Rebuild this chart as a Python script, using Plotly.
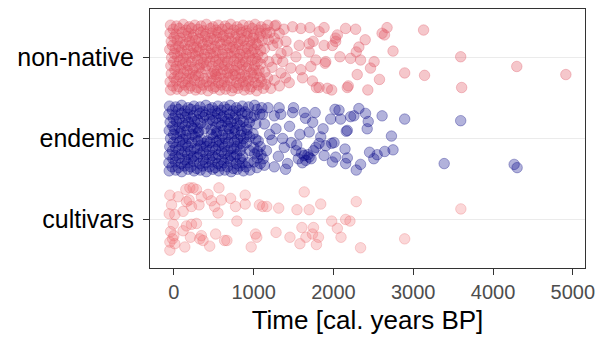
import plotly.graph_objects as go

categories = ["cultivars", "endemic", "non-native"]
x_ticks = [0, 1000, 2000, 3000, 4000, 5000]

# (time [cal. years BP], vertical jitter)
nonnative_points = [
    (-42,.40),(33,.39),(118,.41),(192,.38),(262,.40),(341,.39),(408,.41),(493,.38),(558,.40),(642,.39),(713,.41),(792,.38),(868,.40),(944,.39),(1018,.41),(1093,.38),(1178,.40),(1265,.39),
    (-8,.35),(68,.36),(152,.34),(223,.36),(303,.35),(372,.33),(457,.36),(528,.34),(603,.35),(677,.36),(752,.34),(828,.35),(907,.33),(983,.36),(1062,.34),(1142,.35),
    (-47,.30),(27,.29),(103,.31),(182,.30),(248,.28),(333,.31),(398,.29),(477,.30),(553,.31),(627,.28),(698,.30),(783,.29),(848,.31),(927,.30),(1003,.28),(1082,.30),(1205,.31),
    (2,.25),(78,.24),(162,.26),(233,.25),(312,.23),(388,.26),(462,.24),(538,.25),(612,.26),(688,.24),(767,.25),(838,.23),(917,.26),(992,.24),(1068,.25),
    (-33,.20),(42,.21),(113,.19),(197,.20),(268,.21),(347,.19),(423,.20),(502,.22),(573,.19),(652,.21),(723,.20),(802,.19),(873,.21),(952,.20),(1028,.18),(1108,.21),
    (-17,.15),(62,.14),(138,.16),(212,.15),(288,.13),(367,.16),(438,.15),(517,.14),(588,.16),(667,.15),(743,.13),(817,.16),(893,.14),(972,.15),(1047,.16),
    (-52,.10),(18,.11),(97,.09),(173,.10),(247,.12),(318,.09),(397,.10),(468,.11),(547,.09),(618,.10),(702,.12),(768,.10),(852,.09),(923,.11),(1002,.10),(1088,.09),
    (7,.05),(83,.06),(158,.04),(232,.05),(307,.07),(383,.04),(457,.05),(528,.06),(607,.04),(678,.05),(757,.06),(828,.04),(903,.05),(982,.06),(1053,.04),
    (-28,.00),(47,.01),(118,-.01),(202,.00),(273,.02),(352,-.01),(418,.00),(497,.01),(568,-.02),(647,.00),(718,.01),(797,-.01),(868,.00),(947,.02),(1023,-.01),(1112,.00),
    (-3,-.05),(72,-.04),(148,-.06),(222,-.05),(298,-.03),(372,-.06),(452,-.05),(523,-.04),(602,-.06),(673,-.05),(752,-.04),(822,-.06),(898,-.05),(977,-.03),(1048,-.05),
    (-38,-.10),(32,-.11),(107,-.09),(183,-.10),(257,-.12),(328,-.09),(407,-.10),(478,-.11),(562,-.09),(633,-.10),(712,-.12),(787,-.10),(858,-.09),(937,-.11),(1012,-.10),(1092,-.08),
    (12,-.15),(88,-.14),(167,-.16),(238,-.15),(317,-.13),(392,-.14),(505,-.17),(543,-.16),(617,-.15),(692,-.14),(763,-.16),(842,-.15),(913,-.13),(997,-.15),(1068,-.16),
    (-32,-.20),(52,-.21),(123,-.19),(202,-.20),(273,-.22),(343,-.19),(478,-.20),(522,-.21),(593,-.20),(672,-.19),(743,-.21),(822,-.20),(893,-.22),(972,-.19),(1043,-.20),
    (2,-.25),(78,-.24),(157,-.26),(228,-.25),(307,-.23),(377,-.26),(468,-.25),(538,-.24),(617,-.26),(688,-.25),(772,-.23),(843,-.25),(922,-.26),(998,-.24),(1078,-.25),
    (-47,-.30),(28,-.29),(107,-.31),(178,-.30),(257,-.28),(328,-.31),(412,-.30),(483,-.29),(562,-.31),(633,-.30),(712,-.28),(788,-.31),(867,-.30),(938,-.29),(1017,-.31),(1098,-.30),
    (-12,-.35),(63,-.36),(142,-.34),(213,-.35),(292,-.37),(368,-.34),(447,-.35),(518,-.36),(597,-.34),(668,-.35),(747,-.37),(818,-.34),(897,-.35),(973,-.36),(1057,-.34),
    (-42,-.40),(38,-.39),(122,-.41),(193,-.38),(272,-.40),(343,-.39),(427,-.41),(498,-.38),(577,-.40),(648,-.39),(727,-.41),(802,-.38),(882,-.40),(953,-.39),(1037,-.41),(1122,-.38),
    (1160,.30),(1190,-.05),(1175,-.25),(1215,-.38),(1240,.15),(1230,-.12),(1150,-.33),(1290,-.02),(1320,.30),(1380,.35),(1365,-.05),(1420,.08),(1260,-.28),(1185,.22),(1140,-.18),(1300,.18),(1400,-.25),
    (1280,.40),(1488,.38),(1592,.36),(1259,.24),(1405,.20),(1135,.11),(1343,.05),(1530,.01),(1571,.15),(1696,.17),(1467,-.13),(1592,-.15),(1343,-.19),(1613,-.25),(1446,-.31),(1322,-.35),
    (3130,.34),(3595,.01),(3607,-.37),(4298,-.11),(4913,-.21),(2893,-.19),(3142,-.22),(2747,.08),(2672,.37),(2610,.30),(2640,.28),(2577,-.27),(2431,-.40),(2465,-.13),(2510,-.05),(2398,.22),
    (2319,.13),(2286,.07),(2340,-.03),(2298,-.21),(2174,-.37),(2153,.36),(2278,.35),(2082,.01),(2215,-.01),(2049,.28),(2028,.20),(1987,.15),(1883,.15),(1895,-.07),(1820,.32),(1883,.37),
    (1704,.37),(1746,.20),(1696,.07),(1779,-.03),(1717,-.11),(1737,-.29),(1787,-.37),(1924,-.38),(1978,-.40),(2186,-.35),(2026,.24),(1904,-.05),(1820,-.37),
]

endemic_points = [
    (-55,.40),(22,.39),(97,.41),(178,.38),(252,.40),(328,.39),(402,.41),(482,.38),(553,.40),(632,.39),(707,.41),(783,.38),(858,.40),(937,.39),(1012,.41),(1102,.38),
    (-18,.35),(58,.36),(137,.34),(213,.36),(288,.35),(363,.33),(442,.36),(517,.34),(592,.35),(668,.36),(742,.34),(818,.35),(893,.33),(1043,.36),
    (-62,.30),(18,.29),(92,.31),(168,.30),(243,.28),(322,.31),(393,.29),(472,.30),(548,.31),(622,.28),(697,.30),(772,.29),(852,.31),(923,.30),(1007,.28),(1077,.30),
    (-8,.25),(68,.24),(143,.26),(222,.25),(297,.23),(373,.26),(447,.24),(527,.25),(602,.26),(677,.24),(753,.25),(832,.23),(968,.26),
    (-47,.20),(32,.21),(107,.19),(182,.20),(262,.21),(337,.19),(420,.18),(488,.22),(563,.19),(642,.21),(717,.20),(792,.19),(873,.21),(947,.20),(1028,.18),
    (-13,.15),(67,.14),(142,.16),(218,.15),(293,.13),(380,.12),(523,.14),(598,.16),(673,.15),(752,.13),(827,.16),(907,.14),
    (-58,.10),(12,.11),(88,.09),(163,.10),(242,.12),(312,.09),(468,.11),(542,.09),(617,.10),(693,.12),(768,.10),(847,.09),(918,.11),
    (-3,.05),(78,.06),(152,.04),(228,.05),(302,.07),(470,.05),(532,.06),(608,.04),(683,.05),(758,.06),(838,.04),(913,.05),(992,.06),
    (-42,.00),(37,.01),(112,-.01),(188,.00),(267,.02),(342,-.01),(418,-.03),(493,.01),(568,-.02),(643,.00),(722,.01),(798,-.01),(873,.00),(952,.02),(1027,-.01),
    (-8,-.05),(72,-.04),(147,-.06),(227,-.05),(302,-.03),(377,-.06),(452,-.05),(532,-.04),(607,-.06),(682,-.05),(762,-.04),(837,-.06),(912,-.05),(1058,-.03),
    (-52,-.10),(23,-.11),(102,-.09),(177,-.10),(257,-.12),(332,-.09),(408,-.10),(487,-.11),(562,-.09),(637,-.10),(717,-.12),(792,-.10),(868,-.09),(1002,-.11),(1082,-.10),
    (-18,-.15),(62,-.14),(137,-.16),(212,-.15),(292,-.13),(367,-.16),(447,-.15),(522,-.14),(597,-.16),(677,-.15),(752,-.13),(832,-.15),(950,-.15),(1052,-.16),
    (-57,-.20),(17,-.21),(97,-.19),(172,-.20),(248,-.22),(327,-.19),(402,-.20),(482,-.21),(557,-.20),(632,-.19),(712,-.21),(787,-.20),(862,-.22),(1012,-.19),(1092,-.20),
    (-12,-.25),(68,-.24),(142,-.26),(218,-.25),(297,-.23),(372,-.26),(448,-.25),(527,-.24),(603,-.26),(678,-.25),(757,-.23),(832,-.25),(1047,-.24),
    (-62,-.30),(17,-.29),(92,-.31),(172,-.30),(247,-.28),(323,-.31),(398,-.30),(478,-.29),(553,-.31),(628,-.30),(708,-.28),(782,-.31),(857,-.30),(930,-.30),(1003,-.29),(1083,-.31),
    (-22,-.35),(57,-.36),(133,-.34),(212,-.35),(288,-.37),(362,-.34),(442,-.35),(517,-.36),(593,-.34),(672,-.35),(747,-.37),(827,-.34),(903,-.35),(1042,-.36),
    (-58,-.40),(22,-.39),(98,-.41),(178,-.38),(253,-.40),(332,-.39),(408,-.41),(487,-.38),(563,-.40),(638,-.39),(718,-.41),(793,-.38),(872,-.40),(952,-.39),
    (1180,.38),(1230,-.02),(1310,-.22),(1160,-.15),(1340,.30),(1200,.05),(1450,.15),(1560,-.25),(1600,-.18),(1720,-.25),(1680,-.20),(1580,.05),
    (1740,.20),(1120,-.25),(1400,-.38),(1500,.38),(1320,.38),(1110,.30),(1470,-.05),(1650,.25),(1750,-.15),(1610,-.30),(1540,-.08),
    (3595,.22),(3388,-.31),(4265,-.32),(4302,-.36),(2893,.24),(2610,.28),(2727,.03),(2747,-.14),(2643,-.16),(2548,-.20),(2506,-.25),(2453,-.17),
    (2423,.12),(2436,.21),(2402,.31),(2319,.37),(2257,.28),(2215,.27),(2161,.09),(2090,.24),(2070,.35),(2020,.36),(1966,.24),(2145,-.13),
    (2174,-.24),(2153,-.31),(2340,-.32),(2286,-.39),(1987,-.29),(2028,-.23),(1870,.12),(1841,.02),(1771,.32),(1696,.08),(1779,-.11),(1820,-.06),
    (1904,-.09),(1978,-.06),(1696,-.23),(1633,-.21),(1654,-.27),(1883,-.21),(1488,.32),(1633,.32),(2008,-.05),(2174,.10),(1530,-.15),(1384,-.11),
    (1363,.00),(1280,.12),(1135,.18),(1259,.28),(1426,-.31),(1259,-.35),(1135,-.33),
]

cultivar_points = [
    (-50,.30),(-29,.18),(-58,.07),(12,.06),(-8,-.06),(-41,-.15),(0,-.20),(-50,-.28),(12,-.30),(-50,-.38),(-16,-.24),
    (54,.28),(116,.10),(158,.22),(150,.37),(200,.39),(241,.39),(283,.37),(191,.24),(221,.16),(316,.18),(345,.28),
    (428,.31),(470,.23),(511,.16),(553,.08),(565,.39),(595,.24),(711,.26),(773,.16),(894,.30),(894,.19),(790,-.02),
    (158,-.08),(221,-.06),(283,-.05),(116,-.14),(208,-.22),(345,-.20),(324,-.24),(366,-.26),(449,-.33),(524,-.18),
    (636,-.26),(665,-.26),(137,-.34),(1072,.18),(1114,.16),(1164,.16),(1314,.14),(1634,.34),(1543,.12),(1696,.12),
    (1841,.19),(2286,.22),(1023,-.18),(1039,-.22),(969,-.34),(1281,-.16),(1455,-.22),(1605,-.10),(1750,-.10),
    (1655,-.22),(1737,-.18),(1812,-.22),(1580,-.30),(1787,-.31),(1978,-.02),(2049,-.11),(2095,-.22),(2153,.00),
    (2207,-.02),(2340,-.35),(3597,.13),(2893,-.24),
]

groups = [
    ("non-native", nonnative_points, "rgba(226,84,98,0.33)", "rgba(220,80,94,0.40)"),
    ("endemic", endemic_points, "rgba(0,0,135,0.30)", "rgba(0,0,125,0.40)"),
    ("cultivars", cultivar_points, "rgba(240,110,115,0.28)", "rgba(232,100,106,0.36)"),
]

fig = go.Figure()
for name, pts, fill, edge in groups:
    base = categories.index(name) + 1
    fig.add_trace(go.Scatter(
        x=[p[0] for p in pts],
        y=[base + p[1] for p in pts],
        mode="markers",
        name=name,
        showlegend=False,
        marker=dict(size=10.5, color=fill, line=dict(color=edge, width=0.8)),
        hoverinfo="skip",
    ))

fig.update_layout(
    width=603, height=343,
    margin=dict(l=150, r=15, t=8, b=75),
    paper_bgcolor="white", plot_bgcolor="white",
    font=dict(family="Liberation Sans, Arial, sans-serif", color="#000000"),
)
fig.update_xaxes(
    range=[-299, 5153],
    tickvals=x_ticks, ticktext=[str(v) for v in x_ticks],
    showgrid=False, zeroline=False,
    showline=True, mirror=True, linecolor="#333333", linewidth=1,
    ticks="outside", ticklen=6, tickcolor="#333333", tickwidth=1.2,
    tickfont=dict(size=20, color="#4D4D4D"),
    title=dict(text="Time [cal. years BP]", font=dict(size=26, color="#000000"), standoff=8),
)
fig.update_yaxes(
    range=[0.4, 3.6],
    tickvals=[1, 2, 3], ticktext=categories,
    showgrid=True, gridcolor="#EBEBEB", gridwidth=1.3,
    zeroline=False,
    showline=True, mirror=True, linecolor="#333333", linewidth=1,
    ticks="outside", ticklen=6, tickcolor="#333333", tickwidth=1.2,
    tickfont=dict(size=25, color="#000000"),
    ticklabelstandoff=4,
)

fig.write_html("out.html")
